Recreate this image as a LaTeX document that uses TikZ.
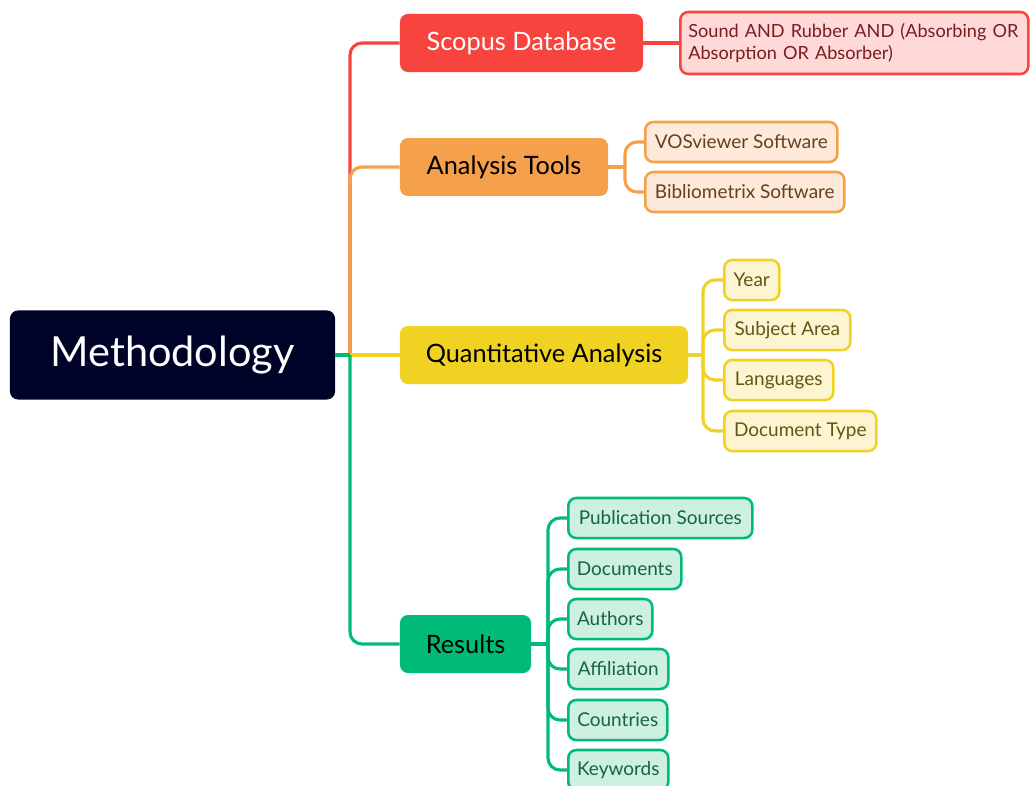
\documentclass[tikz,border=0pt]{standalone}
\usepackage{fontspec}
\setmainfont{Lato}
\usepackage{xcolor}
\definecolor{methnavy}{RGB}{0,3,40}
\definecolor{scopred}{RGB}{247,68,62}
\definecolor{scopleaf}{RGB}{255,216,216}
\definecolor{scoptext}{RGB}{120,30,30}
\definecolor{toolorange}{RGB}{245,160,75}
\definecolor{toolleaf}{RGB}{253,234,218}
\definecolor{tooltext}{RGB}{100,65,30}
\definecolor{quantyellow}{RGB}{240,210,35}
\definecolor{quantleaf}{RGB}{253,245,210}
\definecolor{quanttext}{RGB}{100,85,20}
\definecolor{resgreen}{RGB}{0,187,120}
\definecolor{resleaf}{RGB}{205,240,225}
\definecolor{restext}{RGB}{20,100,70}

\begin{document}
\begin{tikzpicture}[x=0.025cm,y=-0.025cm,
	mainbox/.style={rounded corners=0.2cm,minimum height=1.45cm,inner sep=0pt,font=\fontsize{18}{20}\selectfont},
	leafbox/.style={rounded corners=0.2cm,minimum height=1cm,inner sep=0pt,line width=1.8pt,anchor=west,font=\fontsize{13.5}{16}\selectfont},
	link/.style={line width=2.2pt,rounded corners=0.3cm}]
	\useasboundingbox (0,0) rectangle (1030,785);

	\node(meth) at (172.5,355)[fill=methnavy,text=white,rounded corners=0.2cm,minimum width=8.125cm,minimum height=2.225cm,inner sep=0pt,font=\fontsize{29.5}{32}\selectfont]{Methodology};
	\coordinate(hub) at (350,355);

	\node(scopus) at (521.5,43)[mainbox,fill=scopred,text=white,minimum width=6.075cm]{Scopus Database};
	\node(tools) at (504,167)[mainbox,fill=toolorange,text=black,minimum width=5.2cm]{Analysis Tools};
	\node(quant) at (544,355)[mainbox,fill=quantyellow,text=black,minimum width=7.2cm]{Quantitative Analysis};
	\node(results) at (465.5,644)[mainbox,fill=resgreen,text=black,minimum width=3.275cm]{Results};

	\draw[link,scopred] (hub) |- (scopus.west);
	\draw[link,toolorange] (hub) |- (tools.west);
	\draw[line width=2.2pt,quantyellow] (hub) -- (quant.west);
	\draw[line width=2.2pt,resgreen] (meth.east) -- (hub);
	\draw[link,resgreen] (hub) |- (results.west);

	\node(query) at (679,43)[leafbox,draw=scopred,fill=scopleaf,text=scoptext,minimum height=1.55cm,inner xsep=0.2cm,text width=8.3cm,align=left,font=\fontsize{12.9}{15.5}\selectfont]{Sound AND Rubber AND (Absorbing OR\\Absorption OR Absorber)};
	\draw[line width=2.2pt,scopred] (scopus.east) -- (query.west);

	\node(vos) at (644,142)[leafbox,draw=toolorange,fill=toolleaf,text=tooltext,minimum width=4.8cm]{VOSviewer Software};
	\node(biblio) at (644,192)[leafbox,draw=toolorange,fill=toolleaf,text=tooltext,minimum width=4.975cm]{Bibliometrix Software};
	\coordinate(toolhub) at (625,167);
	\draw[link,toolorange] (tools.east) -- (toolhub);
	\draw[link,toolorange] (toolhub) |- (vos.west);
	\draw[link,toolorange] (toolhub) |- (biblio.west);

	\node(year) at (723,280)[leafbox,draw=quantyellow,fill=quantleaf,text=quanttext,minimum width=1.375cm]{Year};
	\node(subject) at (723,330)[leafbox,draw=quantyellow,fill=quantleaf,text=quanttext,minimum width=3.15cm]{Subject Area};
	\node(lang) at (723,380)[leafbox,draw=quantyellow,fill=quantleaf,text=quanttext,minimum width=2.725cm]{Languages};
	\node(doctype) at (723,431)[leafbox,draw=quantyellow,fill=quantleaf,text=quanttext,minimum width=3.8cm]{Document Type};
	\coordinate(quanthub) at (703,355);
	\draw[link,quantyellow] (quant.east) -- (quanthub);
	\draw[link,quantyellow] (quanthub) |- (year.west);
	\draw[link,quantyellow] (quanthub) |- (subject.west);
	\draw[link,quantyellow] (quanthub) |- (lang.west);
	\draw[link,quantyellow] (quanthub) |- (doctype.west);

	\node(pubsrc) at (567,518)[leafbox,draw=resgreen,fill=resleaf,text=restext,minimum width=4.6cm]{Publication Sources};
	\node(docs) at (567,569)[leafbox,draw=resgreen,fill=resleaf,text=restext,minimum width=2.825cm]{Documents};
	\node(authors) at (567,619)[leafbox,draw=resgreen,fill=resleaf,text=restext,minimum width=2.1cm]{Authors};
	\node(affil) at (567,669)[leafbox,draw=resgreen,fill=resleaf,text=restext,minimum width=2.5cm]{Affiliation};
	\node(countries) at (567,720)[leafbox,draw=resgreen,fill=resleaf,text=restext,minimum width=2.475cm]{Countries};
	\node(keywords) at (567,770)[leafbox,draw=resgreen,fill=resleaf,text=restext,minimum width=2.5cm]{Keywords};
	\coordinate(reshub) at (548,644);
	\draw[link,resgreen] (results.east) -- (reshub);
	\draw[link,resgreen] (reshub) |- (pubsrc.west);
	\draw[link,resgreen] (reshub) |- (docs.west);
	\draw[link,resgreen] (reshub) |- (authors.west);
	\draw[link,resgreen] (reshub) |- (affil.west);
	\draw[link,resgreen] (reshub) |- (countries.west);
	\draw[link,resgreen] (reshub) |- (keywords.west);
\end{tikzpicture}
\end{document}
